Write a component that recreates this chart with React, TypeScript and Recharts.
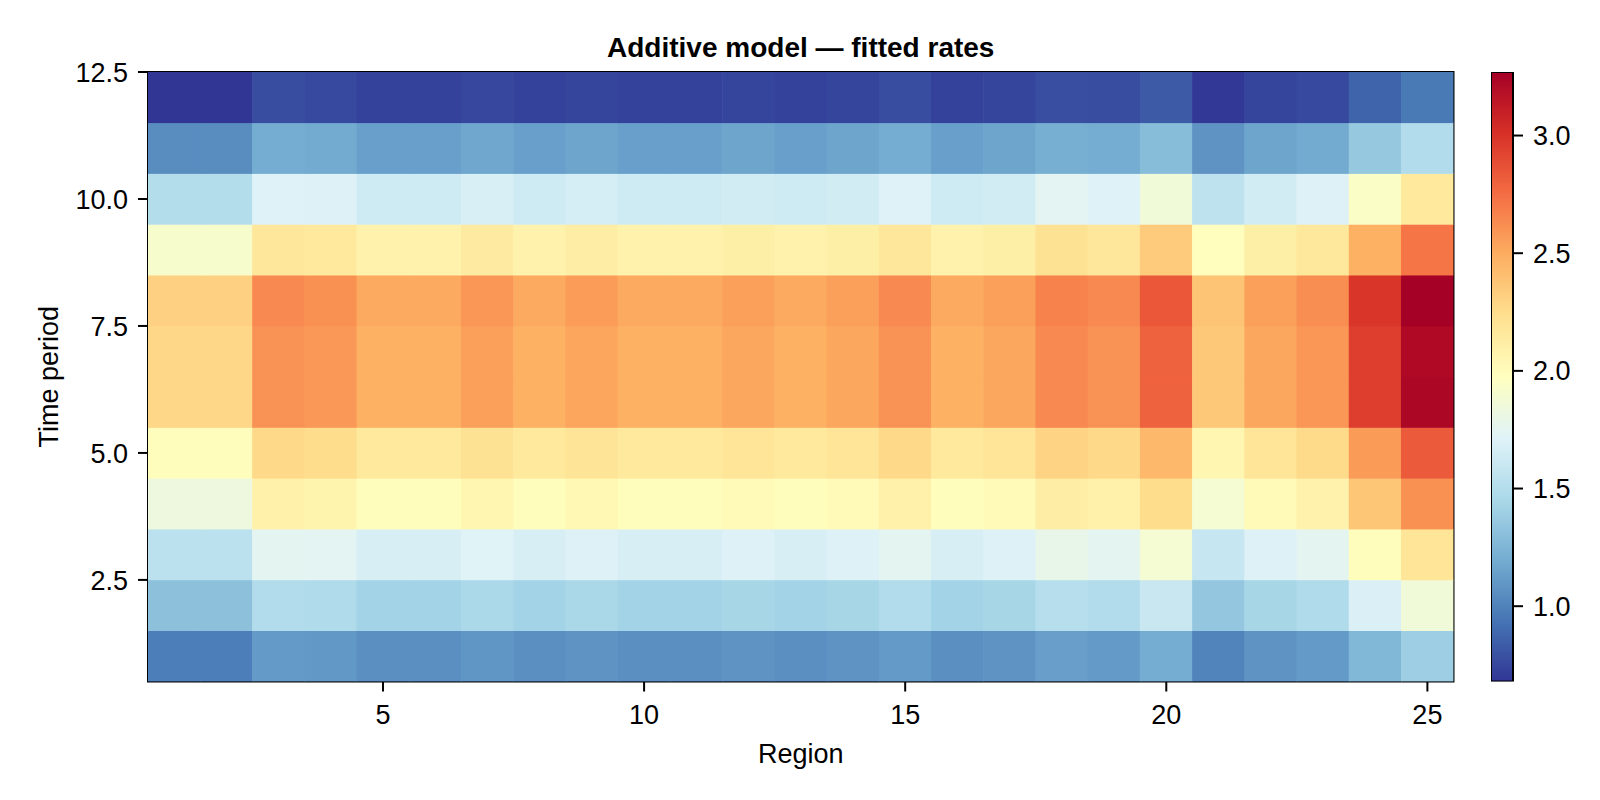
import React from 'react';
import { ScatterChart, Scatter, BarChart, Bar, XAxis, YAxis, ReferenceArea } from 'recharts';

// categories
const regions = [1, 2, 3, 4, 5, 6, 7, 8, 9, 10, 11, 12, 13, 14, 15, 16, 17, 18, 19, 20, 21, 22, 23, 24, 25];
const periods = [1, 2, 3, 4, 5, 6, 7, 8, 9, 10, 11, 12];

// fitted rates, one array per time period, values in region order 1..25
const period1 = [0.98, 0.98, 1.11, 1.10, 1.06, 1.06, 1.09, 1.06, 1.08, 1.06, 1.06, 1.08, 1.06, 1.08, 1.11, 1.06, 1.08, 1.13, 1.11, 1.20, 1.01, 1.08, 1.11, 1.26, 1.39];
const period2 = [1.31, 1.31, 1.49, 1.48, 1.42, 1.42, 1.46, 1.42, 1.45, 1.42, 1.42, 1.44, 1.42, 1.44, 1.49, 1.42, 1.44, 1.51, 1.49, 1.60, 1.35, 1.44, 1.48, 1.69, 1.86];
const period3 = [1.54, 1.54, 1.75, 1.74, 1.67, 1.67, 1.72, 1.67, 1.70, 1.67, 1.67, 1.70, 1.67, 1.70, 1.75, 1.67, 1.70, 1.78, 1.75, 1.89, 1.59, 1.70, 1.75, 1.99, 2.19];
const period4 = [1.83, 1.83, 2.09, 2.07, 1.99, 1.99, 2.05, 1.99, 2.03, 1.99, 1.99, 2.02, 1.99, 2.02, 2.09, 1.99, 2.02, 2.12, 2.09, 2.25, 1.89, 2.02, 2.08, 2.37, 2.61];
const period5 = [1.99, 1.99, 2.27, 2.25, 2.16, 2.16, 2.22, 2.16, 2.20, 2.16, 2.16, 2.19, 2.16, 2.19, 2.27, 2.16, 2.19, 2.30, 2.27, 2.44, 2.05, 2.19, 2.26, 2.57, 2.83];
const period6 = [2.28, 2.28, 2.60, 2.58, 2.48, 2.48, 2.55, 2.48, 2.53, 2.48, 2.48, 2.52, 2.48, 2.52, 2.60, 2.48, 2.52, 2.64, 2.60, 2.80, 2.36, 2.52, 2.59, 2.95, 3.23];
const period7 = [2.28, 2.28, 2.60, 2.58, 2.48, 2.48, 2.55, 2.48, 2.53, 2.48, 2.48, 2.52, 2.48, 2.52, 2.60, 2.48, 2.52, 2.64, 2.60, 2.80, 2.36, 2.52, 2.59, 2.95, 3.22];
const period8 = [2.31, 2.31, 2.64, 2.61, 2.51, 2.51, 2.59, 2.51, 2.56, 2.51, 2.51, 2.55, 2.51, 2.55, 2.64, 2.51, 2.55, 2.67, 2.64, 2.84, 2.38, 2.55, 2.62, 2.99, 3.27];
const period9 = [1.91, 1.91, 2.18, 2.16, 2.08, 2.08, 2.14, 2.08, 2.12, 2.08, 2.08, 2.11, 2.08, 2.11, 2.18, 2.08, 2.11, 2.22, 2.18, 2.35, 1.98, 2.11, 2.17, 2.48, 2.72];
const period10 = [1.50, 1.50, 1.71, 1.70, 1.63, 1.63, 1.68, 1.63, 1.66, 1.63, 1.63, 1.65, 1.63, 1.65, 1.71, 1.63, 1.65, 1.74, 1.71, 1.86, 1.55, 1.65, 1.70, 1.94, 2.16];
const period11 = [1.05, 1.05, 1.20, 1.19, 1.14, 1.14, 1.17, 1.14, 1.16, 1.14, 1.14, 1.16, 1.14, 1.16, 1.20, 1.14, 1.16, 1.21, 1.20, 1.29, 1.08, 1.16, 1.19, 1.36, 1.49];
const period12 = [0.68, 0.68, 0.77, 0.76, 0.73, 0.73, 0.75, 0.73, 0.74, 0.73, 0.73, 0.74, 0.73, 0.74, 0.77, 0.73, 0.74, 0.78, 0.77, 0.83, 0.69, 0.74, 0.76, 0.87, 0.96];

const rates = [period1, period2, period3, period4, period5, period6, period7, period8, period9, period10, period11, period12];

// tick labels
const xTicks = [5, 10, 15, 20, 25];
const yTicks = [2.5, 5, 7.5, 10, 12.5];
const colorTicks = [1, 1.5, 2, 2.5, 3];

// RdYlBu, reversed (low = blue)
const palette = ['#313695', '#4575b4', '#74add1', '#abd9e9', '#e0f3f8', '#ffffbf', '#fee090', '#fdae61', '#f46d43', '#d73027', '#a50026'];

const FONT = '"Liberation Sans", Arial, Helvetica, sans-serif';

const allRates = rates.flat();
const vMin = Math.min(...allRates);
const vMax = Math.max(...allRates);

const hexToRgb = (h: string) => [1, 3, 5].map((i) => parseInt(h.slice(i, i + 2), 16));

const rateColor = (v: number) => {
  const t = Math.max(0, Math.min(1, (v - vMin) / (vMax - vMin)));
  const pos = t * (palette.length - 1);
  const i = Math.min(Math.floor(pos), palette.length - 2);
  const f = pos - i;
  const a = hexToRgb(palette[i]);
  const b = hexToRgb(palette[i + 1]);
  const c = a.map((ai, k) => Math.round(ai + (b[k] - ai) * f));
  return `rgb(${c[0]},${c[1]},${c[2]})`;
};

const cells = periods.flatMap((p, pi) =>
  regions.map((r, ri) => ({ region: r, period: p, rate: rates[pi][ri] }))
);

const colorBarData = [{ name: 'rate', range: [vMin, vMax] }];

// layout
const W = 1600;
const H = 800;
const margin = { top: 72, right: 146.5, bottom: 18.5, left: 28 };
const yAxisW = 120;
const xAxisH = 100;
const plotW = W - margin.left - margin.right - yAxisW;
const plotH = H - margin.top - margin.bottom - xAxisH;
const cellW = plotW / regions.length;
const cellH = plotH / periods.length;

const HeatCell = (props: any) => {
  const { cx, cy, payload } = props;
  if (cx == null || cy == null) return null;
  return (
    <rect
      x={cx - cellW / 2 - 0.3}
      y={cy - cellH / 2 - 0.3}
      width={cellW + 0.6}
      height={cellH + 0.6}
      fill={rateColor(payload.rate)}
      stroke="none"
    />
  );
};

const XLabel = ({ viewBox }: any) => {
  const { x, y, width } = viewBox;
  return (
    <text x={x + width / 2} y={y + 81.5} textAnchor="middle" fontSize={27} fontFamily={FONT} fill="#000">
      Region
    </text>
  );
};

const YLabel = ({ viewBox }: any) => {
  const { x, y, height } = viewBox;
  const cx = x + 30;
  const cy = y + height / 2;
  return (
    <text x={cx} y={cy} transform={`rotate(-90 ${cx} ${cy})`} textAnchor="middle" fontSize={27} fontFamily={FONT} fill="#000">
      Time period
    </text>
  );
};

const tickStyle = { fontSize: 27, fontFamily: FONT, fill: '#000' };
const tickLine = { stroke: '#000', strokeWidth: 2 };

const App: React.FC = () => {
  return (
    <div style={{ position: 'absolute', left: 0, top: 0, width: W, height: H, background: '#fff' }}>
      <ScatterChart width={W} height={H} margin={margin}>
        <text x={margin.left + yAxisW + plotW / 2} y={57.3} textAnchor="middle" fontSize={28} fontWeight="bold" fontFamily={FONT} fill="#000">
          Additive model — fitted rates
        </text>
        <XAxis
          type="number"
          dataKey="region"
          domain={[0.5, 25.5]}
          allowDataOverflow
          ticks={xTicks}
          interval={0}
          height={xAxisH}
          axisLine={false}
          tickLine={tickLine}
          tickSize={10}
          tickMargin={13}
          tick={tickStyle}
          label={<XLabel />}
        />
        <YAxis
          type="number"
          dataKey="period"
          domain={[0.5, 12.5]}
          allowDataOverflow
          ticks={yTicks}
          interval={0}
          width={yAxisW}
          axisLine={false}
          tickLine={tickLine}
          tickSize={10}
          tickMargin={10}
          tick={tickStyle}
          tickFormatter={(v: number) => v.toFixed(1)}
          label={<YLabel />}
        />
        <Scatter data={cells} shape={<HeatCell />} isAnimationActive={false} />
        <ReferenceArea x1={0.5} x2={25.5} y1={0.5} y2={12.5} fill="none" fillOpacity={0} stroke="#000" strokeWidth={2} ifOverflow="visible" />
      </ScatterChart>

      {/* colour bar */}
      <div style={{ position: 'absolute', left: 1491, top: 0 }}>
        <BarChart width={99} height={H} data={colorBarData} margin={{ top: 72, right: 17, bottom: 118.5, left: 0 }} barCategoryGap={0}>
          <defs>
            <linearGradient id="cbGrad" x1="0" y1="1" x2="0" y2="0">
              {palette.map((c, i) => (
                <stop key={c} offset={`${(i / (palette.length - 1)) * 100}%`} stopColor={c} />
              ))}
            </linearGradient>
          </defs>
          <XAxis dataKey="name" hide />
          <YAxis
            type="number"
            orientation="right"
            domain={[vMin, vMax]}
            allowDataOverflow
            ticks={colorTicks}
            interval={0}
            width={60}
            axisLine={false}
            tickLine={tickLine}
            tickSize={10}
            tickMargin={10}
            tick={tickStyle}
            tickFormatter={(v: number) => v.toFixed(1)}
          />
          <Bar dataKey="range" fill="url(#cbGrad)" stroke="#000" strokeWidth={2} isAnimationActive={false} />
        </BarChart>
      </div>
    </div>
  );
};

export default App;
